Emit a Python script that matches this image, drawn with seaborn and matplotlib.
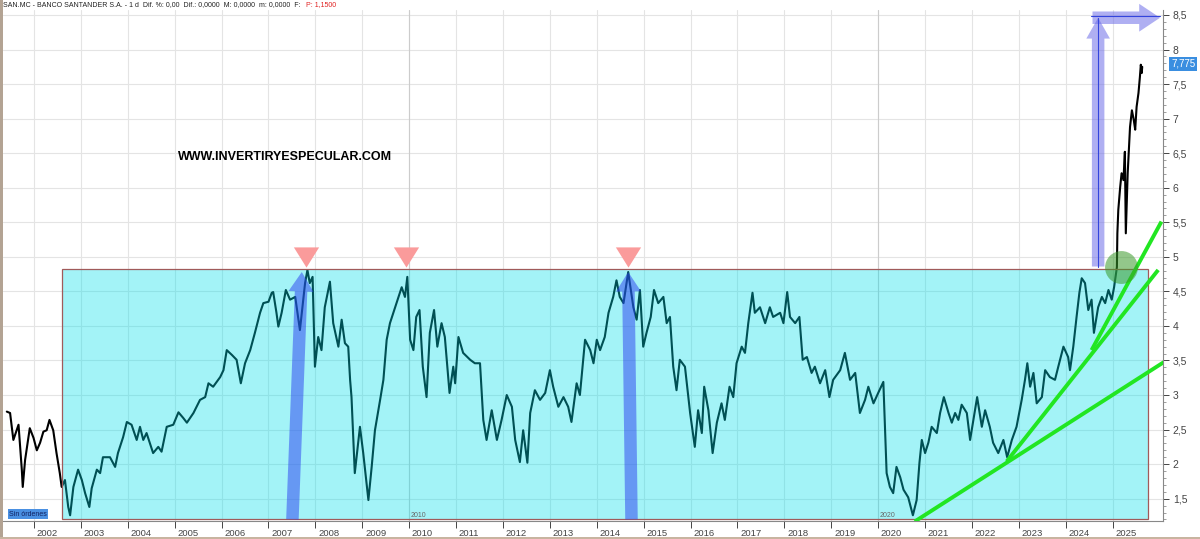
import matplotlib
matplotlib.use("Agg")
import matplotlib.pyplot as plt
import matplotlib.transforms as mtransforms
from matplotlib.patches import Rectangle
from matplotlib.ticker import FuncFormatter, MultipleLocator
import seaborn as sns
import pandas as pd

# ---------------- data ----------------
dates = [
    2001.42, 2001.49, 2001.56, 2001.67, 2001.74, 2001.76, 2001.81, 2001.91, 2001.99, 2002.06,
    2002.13, 2002.20, 2002.27, 2002.33, 2002.41, 2002.48, 2002.55, 2002.59, 2002.66, 2002.73,
    2002.77, 2002.84, 2002.94, 2003.02, 2003.09, 2003.18, 2003.23, 2003.34, 2003.41, 2003.47,
    2003.62, 2003.73, 2003.79, 2003.90, 2003.98, 2004.08, 2004.19, 2004.26, 2004.33, 2004.40,
    2004.54, 2004.65, 2004.72, 2004.83, 2004.97, 2005.08, 2005.18, 2005.26, 2005.40, 2005.54,
    2005.65, 2005.72, 2005.82, 2005.97, 2006.04, 2006.11, 2006.22, 2006.32, 2006.41, 2006.50,
    2006.61, 2006.71, 2006.82, 2006.89, 2007.00, 2007.07, 2007.10, 2007.17, 2007.21, 2007.28,
    2007.37, 2007.46, 2007.57, 2007.67, 2007.78, 2007.83, 2007.88, 2007.94, 2007.99, 2008.06,
    2008.13, 2008.20, 2008.31, 2008.38, 2008.49, 2008.56, 2008.63, 2008.70, 2008.74, 2008.77,
    2008.81, 2008.84, 2008.95, 2009.02, 2009.13, 2009.20, 2009.27, 2009.38, 2009.45, 2009.52,
    2009.59, 2009.70, 2009.77, 2009.84, 2009.91, 2009.96, 2010.02, 2010.09, 2010.15, 2010.22,
    2010.29, 2010.37, 2010.44, 2010.53, 2010.60, 2010.69, 2010.76, 2010.86, 2010.94, 2010.98,
    2011.05, 2011.15, 2011.30, 2011.40, 2011.51, 2011.58, 2011.65, 2011.76, 2011.87, 2011.97,
    2012.08, 2012.19, 2012.26, 2012.36, 2012.43, 2012.52, 2012.58, 2012.68, 2012.79, 2012.90,
    2013.00, 2013.07, 2013.18, 2013.29, 2013.39, 2013.46, 2013.57, 2013.64, 2013.75, 2013.86,
    2013.93, 2014.00, 2014.07, 2014.17, 2014.25, 2014.35, 2014.42, 2014.49, 2014.57, 2014.67,
    2014.78, 2014.85, 2014.92, 2014.99, 2015.06, 2015.15, 2015.22, 2015.31, 2015.42, 2015.49,
    2015.56, 2015.63, 2015.70, 2015.77, 2015.88, 2015.99, 2016.09, 2016.16, 2016.24, 2016.29,
    2016.38, 2016.47, 2016.56, 2016.66, 2016.73, 2016.83, 2016.91, 2016.98, 2017.09, 2017.16,
    2017.23, 2017.32, 2017.37, 2017.48, 2017.59, 2017.69, 2017.76, 2017.91, 2017.98, 2018.06,
    2018.12, 2018.23, 2018.32, 2018.39, 2018.48, 2018.58, 2018.65, 2018.76, 2018.87, 2018.96,
    2019.04, 2019.19, 2019.29, 2019.40, 2019.51, 2019.61, 2019.72, 2019.79, 2019.90, 2020.00,
    2020.11, 2020.15, 2020.18, 2020.25, 2020.32, 2020.39, 2020.47, 2020.54, 2020.64, 2020.74,
    2020.82, 2020.88, 2020.93, 2021.00, 2021.07, 2021.14, 2021.25, 2021.32, 2021.40, 2021.50,
    2021.57, 2021.64, 2021.71, 2021.78, 2021.89, 2021.96, 2022.03, 2022.11, 2022.21, 2022.28,
    2022.38, 2022.45, 2022.56, 2022.67, 2022.75, 2022.85, 2022.95, 2023.06, 2023.13, 2023.18,
    2023.24, 2023.31, 2023.38, 2023.49, 2023.56, 2023.66, 2023.77, 2023.84, 2023.95, 2024.05,
    2024.09, 2024.16, 2024.23, 2024.29, 2024.34, 2024.41, 2024.48, 2024.55, 2024.60, 2024.69,
    2024.77, 2024.84, 2024.91, 2024.98, 2025.03, 2025.09, 2025.10, 2025.12, 2025.16, 2025.19,
    2025.23, 2025.26, 2025.28, 2025.32, 2025.37, 2025.41, 2025.45, 2025.48, 2025.51, 2025.55,
    2025.58, 2025.60, 2025.62, 2025.63,
]
prices = [
    2.76, 2.74, 2.35, 2.57, 1.92, 1.67, 2.06, 2.52, 2.38, 2.20,
    2.31, 2.47, 2.49, 2.64, 2.49, 2.16, 1.87, 1.67, 1.77, 1.38,
    1.26, 1.67, 1.92, 1.77, 1.58, 1.38, 1.65, 1.92, 1.87, 2.10,
    2.10, 1.96, 2.16, 2.39, 2.61, 2.57, 2.35, 2.54, 2.35, 2.45,
    2.16, 2.25, 2.18, 2.54, 2.57, 2.75, 2.67, 2.60, 2.74, 2.93,
    2.97, 3.17, 3.12, 3.26, 3.36, 3.65, 3.58, 3.51, 3.17, 3.46,
    3.65, 3.90, 4.19, 4.33, 4.35, 4.48, 4.49, 4.19, 3.99, 4.19,
    4.52, 4.38, 4.42, 3.94, 4.62, 4.81, 4.62, 4.71, 3.41, 3.84,
    3.65, 4.27, 4.64, 4.04, 3.70, 4.09, 3.75, 3.70, 3.22, 2.97,
    2.35, 1.87, 2.54, 2.16, 1.48, 1.96, 2.49, 2.93, 3.22, 3.80,
    4.04, 4.27, 4.42, 4.56, 4.42, 4.71, 3.80, 3.65, 4.13, 4.23,
    3.41, 2.97, 3.90, 4.23, 3.70, 4.04, 3.84, 3.03, 3.41, 3.17,
    3.84, 3.61, 3.51, 3.46, 3.46, 2.64, 2.35, 2.78, 2.35, 2.64,
    3.00, 2.83, 2.35, 2.03, 2.49, 2.02, 2.74, 3.07, 2.93, 3.03,
    3.36, 3.12, 2.83, 2.97, 2.83, 2.61, 3.17, 3.00, 3.80, 3.65,
    3.46, 3.80, 3.65, 3.84, 4.19, 4.42, 4.66, 4.42, 4.33, 4.78,
    4.27, 4.09, 4.52, 3.70, 3.90, 4.13, 4.52, 4.33, 4.42, 4.04,
    4.13, 3.41, 3.07, 3.51, 3.41, 2.74, 2.25, 2.78, 2.45, 3.12,
    2.78, 2.16, 2.60, 2.88, 2.64, 3.12, 2.97, 3.46, 3.70, 3.61,
    4.04, 4.48, 4.19, 4.27, 4.04, 4.27, 4.13, 4.19, 4.04, 4.49,
    4.13, 4.04, 4.13, 3.51, 3.55, 3.32, 3.41, 3.17, 3.36, 2.97,
    3.22, 3.36, 3.61, 3.22, 3.32, 2.74, 2.93, 3.12, 2.88, 3.03,
    3.19, 2.45, 1.87, 1.67, 1.58, 1.96, 1.81, 1.63, 1.52, 1.26,
    1.48, 2.02, 2.35, 2.16, 2.31, 2.54, 2.45, 2.74, 2.97, 2.74,
    2.60, 2.74, 2.64, 2.86, 2.74, 2.35, 2.64, 2.97, 2.54, 2.78,
    2.54, 2.31, 2.16, 2.35, 2.10, 2.35, 2.54, 2.93, 3.22, 3.46,
    3.12, 3.32, 2.88, 2.97, 3.36, 3.26, 3.22, 3.41, 3.70, 3.55,
    3.36, 3.70, 4.13, 4.48, 4.69, 4.62, 4.23, 4.38, 3.90, 4.27,
    4.42, 4.33, 4.52, 4.38, 4.56, 4.85, 5.34, 5.68, 6.01, 6.21,
    6.11, 6.52, 5.34, 6.21, 6.88, 7.12, 6.98, 6.84, 7.17, 7.37,
    7.60, 7.78, 7.66, 7.75,
]

years = list(range(2002, 2026))
price_ticks = [1.5, 2, 2.5, 3, 3.5, 4, 4.5, 5, 5.5, 6, 6.5, 7, 7.5, 8, 8.5]
decade_marks = [2010, 2020]

resistance = 4.83          # top of the lateral range
range_floor = 1.20
range_start = 2002.60
range_end = 2025.75

peak_dates = [2007.80, 2009.93, 2014.67]
impulse_base_dates = [2007.51, 2014.74]
impulse_top_dates = [2007.71, 2014.67]

trend_x = [[2020.78, 2026.10], [2022.74, 2025.97], [2024.55, 2026.04]]
trend_y = [[1.17, 3.48], [2.04, 4.81], [3.65, 5.51]]

breakout_date = 2024.69
breakout_circle = (2025.18, 4.85)
target_level = 8.46
target_end = 2026.01
last_price = 7.775

header_main = "SAN.MC - BANCO SANTANDER S.A. - 1 d  Dif. %: 0,00  Dif.: 0,0000  M: 0,0000  m: 0,0000  F:"
header_red = "P: 1,1500"

# ---------------- figure ----------------
sns.set_theme(style="white")
plt.rcParams['font.family'] = ['Liberation Sans', 'DejaVu Sans']

W, H = 1200, 539
fig = plt.figure(figsize=(W / 100, H / 100), dpi=100, facecolor="white")
ax = fig.add_axes([3 / W, 18 / H, 1160 / W, 511 / H])
ax.set_facecolor("white")

ax.set_xlim(2001.339, 2026.073)
ax.set_ylim(1.177, 8.572)

# grid
for yr in years:
    ax.axvline(yr, color="#e4e4e4", lw=0.8, zorder=0)
for p in price_ticks:
    ax.axhline(p, color="#e4e4e4", lw=0.8, zorder=0)
for d in decade_marks:
    ax.axvline(d, color="#cccccc", lw=0.8, zorder=0.5)

# price line
df = pd.DataFrame({"date": dates, "price": prices})
sns.lineplot(data=df, x="date", y="price", ax=ax, color="black", lw=1.5,
             sort=False, estimator=None, zorder=2)

# lateral range box
ax.add_patch(Rectangle((range_start, range_floor), range_end - range_start,
                       resistance - range_floor, facecolor="#00dfea", alpha=0.36,
                       edgecolor="none", zorder=3))
ax.add_patch(Rectangle((range_start, range_floor), range_end - range_start,
                       resistance - range_floor, facecolor="none",
                       edgecolor="#a05a5a", lw=0.9, zorder=3.1))

# blue impulse arrows
for b, t in zip(impulse_base_dates, impulse_top_dates):
    ax.annotate("", xy=(t, resistance - 0.05), xytext=(b, range_floor),
                arrowprops=dict(arrowstyle="simple,head_length=14,head_width=18,tail_width=9",
                                mutation_scale=1, color="#2a3ff0", alpha=0.5, lw=0,
                                shrinkA=0, shrinkB=0), zorder=4)

# green trend lines
for xs, ys in zip(trend_x, trend_y):
    ax.plot(xs, ys, color="#22e622", lw=2.8, solid_capstyle="butt", zorder=5)

# pink triangles on the peaks
tri = [(-1, 0.8), (1, 0.8), (0, -0.8)]
ax.scatter(peak_dates, [5.0] * len(peak_dates), marker=tri, s=330,
           color="#fa9b9b", linewidths=0, zorder=6)

# breakout circle
ax.scatter([breakout_circle[0]], [breakout_circle[1]], s=560, color="#3a9a2a",
           alpha=0.55, linewidths=0, zorder=6)

# target arrows (lavender)
ax.annotate("", xy=(breakout_date, target_level), xytext=(breakout_date, resistance + 0.03),
            arrowprops=dict(arrowstyle="simple,head_length=15,head_width=17,tail_width=9",
                            mutation_scale=1, color="#6e6ee8", alpha=0.55, lw=0,
                            shrinkA=0, shrinkB=0), zorder=4)
ax.annotate("", xy=(target_end, target_level), xytext=(breakout_date - 0.12, target_level),
            arrowprops=dict(arrowstyle="simple,head_length=15,head_width=20,tail_width=9",
                            mutation_scale=1, color="#6e6ee8", alpha=0.55, lw=0,
                            shrinkA=0, shrinkB=0), zorder=4)
ax.plot([breakout_date - 0.15, target_end], [target_level + 0.02] * 2, color="#3344dd", lw=0.8, zorder=4.5)
ax.plot([breakout_date, breakout_date], [resistance + 0.03, target_level], color="#3344dd", lw=0.8, zorder=4.5)

# watermark text
ax.text(2005.07, 6.44, "WWW.INVERTIRYESPECULAR.COM", fontsize=9.0, fontweight="bold",
        color="black", va="center", ha="left", zorder=7)

# decade labels inside plot
for d in decade_marks:
    ax.text(d + 0.03, 1.21, str(d), fontsize=5, color="#666666", va="bottom", ha="left", zorder=7)

# axes styling
for s in ["left", "top"]:
    ax.spines[s].set_visible(False)
ax.spines["right"].set_color("#888888")
ax.spines["bottom"].set_color("#888888")
ax.spines["right"].set_linewidth(0.8)
ax.spines["bottom"].set_linewidth(0.8)

ax.yaxis.tick_right()
ax.set_yticks(price_ticks)
ax.yaxis.set_major_formatter(FuncFormatter(lambda v, p: (f"{v:g}").replace(".", ",")))
ax.yaxis.set_minor_locator(MultipleLocator(0.1))
ax.tick_params(axis="y", which="major", direction="out", length=4, width=0.7,
               labelsize=7.5, colors="#444444", pad=3, right=True, left=False)
ax.tick_params(axis="y", which="minor", direction="out", length=2, width=0.5,
               colors="#777777", right=True, left=False)

ax.set_xticks(years)
ax.set_xticklabels([str(y) for y in years])
ax.tick_params(axis="x", direction="out", length=5, width=0.7, labelsize=6.8,
               colors="#444444", pad=1.0, bottom=True)
offset = mtransforms.ScaledTranslation(2.0 / 72, 0, fig.dpi_scale_trans)
for lab in ax.get_xticklabels():
    lab.set_horizontalalignment("left")
    lab.set_transform(lab.get_transform() + offset)
ax.set_xlabel("")
ax.set_ylabel("")
ax.grid(False)

# header (red part placed right after the measured black part)
t_main = fig.text(3 / W, 1 - 5 / H, header_main, fontsize=5.0, color="#222222",
                  va="center", ha="left")
fig.canvas.draw()
bb = t_main.get_window_extent(renderer=fig.canvas.get_renderer())
fig.text((bb.x1 + 5) / W, 1 - 5 / H, header_red, fontsize=5.0, color="#e02020",
         va="center", ha="left")

# last price label
fig.text(1171 / W, 1 - 64 / H, "7,775", fontsize=7, color="white", va="center", ha="left",
         bbox=dict(boxstyle="square,pad=0.2", facecolor="#3a8ee0", edgecolor="none"))

# "Sin órdenes" box
fig.text(9 / W, 1 - 514 / H, "Sin órdenes", fontsize=5, color="#102060", va="center", ha="left",
         bbox=dict(boxstyle="square,pad=0.15", facecolor="#4a90e2", edgecolor="none"))

# window frame
fig.add_artist(Rectangle((0, 0), 3 / W, 1, transform=fig.transFigure, facecolor="#b3a393",
                         edgecolor="none"))
fig.add_artist(Rectangle((0, 0), 1, 2 / H, transform=fig.transFigure, facecolor="#c8b4a0",
                         edgecolor="none"))

fig.savefig("out.png", dpi=100, facecolor="white")
